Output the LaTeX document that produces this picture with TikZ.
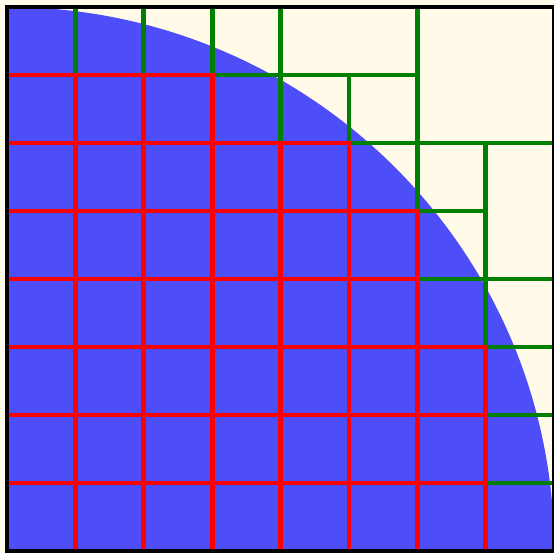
\documentclass[tikz,border=0pt]{standalone}
\usepackage{tikz}
\definecolor{diskblue}{RGB}{78,78,248}
\definecolor{paper}{RGB}{255,251,232}
\definecolor{cellgreen}{RGB}{0,128,0}

\begin{document}
\begin{tikzpicture}[x={(1.0059cm,0)},
  incell/.style={draw=red, line width=2pt},
  edgecell/.style={draw=cellgreen, line width=2pt},
  outerbox/.style={draw=black, line width=2pt}]
  \useasboundingbox[fill=paper] (-0.1024,-0.029) rectangle (7.997,8.103);
  % quarter disk of radius 8
  \fill[diskblue] (0,0) -- (8,0) arc[start angle=0, end angle=90, x radius=8, y radius=8] -- cycle;
  % cells cut by the arc
  \foreach \i in {0,...,7}{
    \foreach \j in {0,...,7}{
      \pgfmathtruncatemacro{\cut}{and(\i*\i+\j*\j<64, (\i+1)*(\i+1)+(\j+1)*(\j+1)>64)}
      \ifnum\cut=1 \draw[edgecell] (\i,\j) rectangle ++(1,1); \fi
    }
  }
  % blocks outside the disk
  \draw[edgecell] (4,7) rectangle (6,8) (6,6) rectangle (8,8) (7,4) rectangle (8,6);
  % cells inside the disk
  \foreach \i in {0,...,7}{
    \foreach \j in {0,...,7}{
      \pgfmathtruncatemacro{\full}{(\i+1)*(\i+1)+(\j+1)*(\j+1)<=64}
      \ifnum\full=1 \draw[incell] (\i,\j) rectangle ++(1,1); \fi
    }
  }
  \draw[outerbox] (0,0) rectangle (8,8);
\end{tikzpicture}
\end{document}
